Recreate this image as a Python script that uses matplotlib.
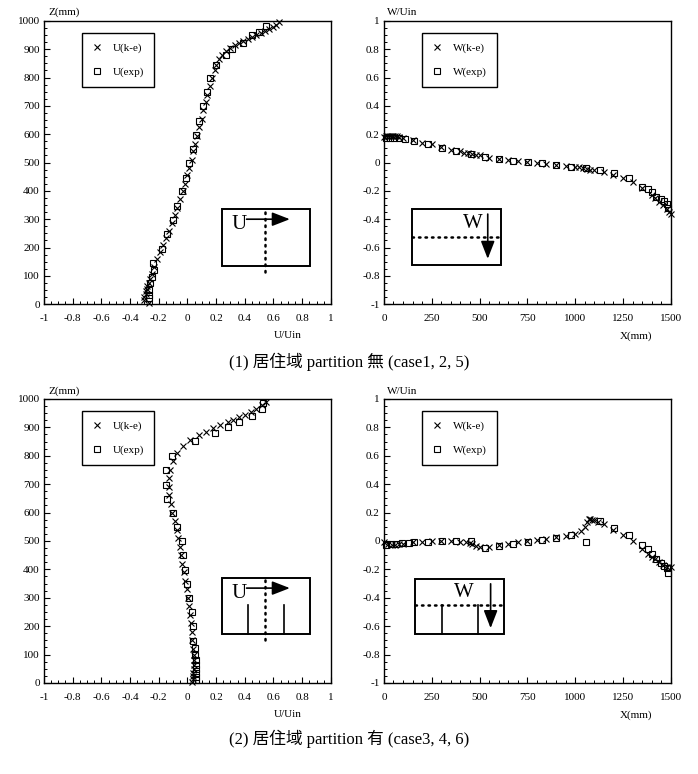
import numpy as np
import matplotlib
matplotlib.use('Agg')
import matplotlib.pyplot as plt
from matplotlib.patches import Rectangle
from matplotlib.ticker import MultipleLocator, FuncFormatter

plt.rcParams['font.family'] = ['Liberation Serif', 'Noto Sans CJK JP']
plt.rcParams['axes.unicode_minus'] = False

# (1) partition 無 : U profile
u1_ke = [-0.27, -0.30, -0.30, -0.29, -0.29, -0.28, -0.28, -0.27, -0.26, -0.25, -0.23, -0.21,
         -0.19, -0.17, -0.15, -0.13, -0.11, -0.09, -0.07, -0.05, -0.03, -0.02, 0.0, 0.01, 0.03,
         0.04, 0.05, 0.07, 0.08, 0.10, 0.11, 0.13, 0.14, 0.16, 0.17, 0.19, 0.20, 0.22, 0.24,
         0.27, 0.30, 0.33, 0.36, 0.39, 0.42, 0.45, 0.48, 0.51, 0.54, 0.57, 0.60, 0.62, 0.64]
z1_ke = [5, 15, 25, 35, 45, 55, 65, 75, 90, 105, 130, 160, 185, 210, 235, 260, 285, 315, 340,
         370, 400, 425, 455, 480, 510, 540, 565, 595, 625, 655, 685, 715, 740, 770, 800, 825,
         845, 865, 880, 895, 905, 915, 922, 930, 937, 944, 950, 957, 964, 972, 980, 987, 995]
u1_exp = [0.55, 0.50, 0.45, 0.39, 0.31, 0.27, 0.20, 0.16, 0.14, 0.11, 0.08, 0.06, 0.04, 0.01,
          -0.01, -0.04, -0.07, -0.10, -0.14, -0.18, -0.24, -0.23, -0.25, -0.26, -0.27, -0.27,
          -0.27]
z1_exp = [982, 960, 950, 921, 900, 880, 845, 800, 750, 698, 645, 598, 548, 498, 445, 398, 345,
          298, 247, 195, 145, 119, 95, 74, 50, 33, 21]

# (1) partition 無 : W profile
x1_ke = [0, 10, 20, 30, 40, 50, 60, 70, 80, 100, 150, 200, 250, 300, 350, 400, 420, 440, 460,
         480, 500, 550, 600, 650, 700, 750, 800, 850, 900, 950, 1000, 1020, 1040, 1060, 1080,
         1100, 1150, 1200, 1250, 1300, 1350, 1400, 1420, 1440, 1460, 1480, 1490, 1500]
w1_ke = [0.18, 0.19, 0.19, 0.19, 0.19, 0.19, 0.185, 0.185, 0.18, 0.175, 0.16, 0.14, 0.13, 0.11,
         0.09, 0.08, 0.07, 0.065, 0.06, 0.055, 0.05, 0.035, 0.025, 0.015, 0.01, 0.003, -0.003,
         -0.01, -0.018, -0.025, -0.03, -0.035, -0.04, -0.045, -0.05, -0.055, -0.065, -0.085,
         -0.11, -0.14, -0.18, -0.23, -0.25, -0.28, -0.30, -0.33, -0.35, -0.36]
x1_exp = [9, 30, 55, 80, 110, 157, 230, 305, 378, 453, 528, 602, 675, 753, 825, 898, 977,
          1055, 1128, 1204, 1279, 1352, 1381, 1400, 1425, 1451, 1465, 1479, 1486]
w1_exp = [0.17, 0.17, 0.17, 0.17, 0.165, 0.15, 0.13, 0.105, 0.08, 0.06, 0.04, 0.024, 0.012,
          0.002, -0.005, -0.016, -0.028, -0.04, -0.056, -0.075, -0.11, -0.17, -0.19, -0.21,
          -0.24, -0.26, -0.275, -0.29, -0.32]

# (2) partition 有 : U profile
u2_ke = [0.03, 0.04, 0.04, 0.04, 0.045, 0.045, 0.045, 0.045, 0.04, 0.035, 0.03, 0.025, 0.02,
         0.012, 0.005, -0.005, -0.015, -0.025, -0.035, -0.045, -0.055, -0.065, -0.075, -0.09,
         -0.105, -0.115, -0.125, -0.13, -0.13, -0.12, -0.10, -0.07, -0.03, 0.02, 0.08, 0.13,
         0.18, 0.23, 0.28, 0.32, 0.36, 0.40, 0.44, 0.48, 0.52, 0.55]
z2_ke = [5, 15, 25, 35, 50, 65, 80, 100, 120, 150, 180, 210, 240, 270, 300, 330, 360, 390, 420,
         450, 480, 510, 540, 570, 600, 630, 660, 690, 720, 750, 780, 810, 835, 855, 872, 885,
         897, 907, 917, 926, 935, 945, 955, 965, 977, 990]
u2_exp = [0.53, 0.52, 0.45, 0.36, 0.28, 0.19, 0.05, -0.11, -0.15, -0.15, -0.14, -0.10, -0.07,
          -0.04, -0.03, -0.02, 0.0, 0.01, 0.03, 0.04, 0.04, 0.05, 0.05, 0.06, 0.06, 0.06, 0.06,
          0.06, 0.06]
z2_exp = [984, 965, 941, 918, 900, 880, 851, 798, 749, 698, 648, 599, 548, 499, 450, 399, 349,
          299, 250, 200, 149, 123, 100, 82, 65, 50, 35, 20, 12]

# (2) partition 有 : W profile
x2_ke = [0, 20, 40, 60, 80, 100, 150, 200, 250, 300, 350, 400, 430, 450, 460, 480, 500, 550,
         600, 650, 700, 750, 800, 850, 900, 950, 1000, 1030, 1050, 1060, 1070, 1080, 1090,
         1100, 1120, 1150, 1200, 1250, 1300, 1350, 1380, 1400, 1420, 1440, 1460, 1480, 1500]
w2_ke = [-0.01, -0.02, -0.03, -0.03, -0.025, -0.02, -0.01, -0.005, 0.0, 0.0, 0.0, -0.005,
         -0.01, -0.015, -0.025, -0.035, -0.045, -0.04, -0.03, -0.02, -0.01, 0.0, 0.005, 0.015,
         0.025, 0.035, 0.05, 0.07, 0.10, 0.13, 0.155, 0.155, 0.15, 0.145, 0.135, 0.12, 0.08,
         0.04, 0.0, -0.06, -0.09, -0.11, -0.13, -0.15, -0.17, -0.18, -0.18]
x2_exp = [12, 35, 61, 96, 131, 157, 230, 305, 378, 453, 528, 602, 677, 754, 828, 902, 977,
          1055, 1128, 1204, 1279, 1352, 1381, 1400, 1425, 1451, 1465, 1479, 1486]
w2_exp = [-0.03, -0.023, -0.019, -0.014, -0.012, -0.007, -0.007, -0.002, -0.002, -0.002,
          -0.053, -0.037, -0.019, -0.007, 0.009, 0.023, 0.04, -0.007, 0.137, 0.093, 0.044,
          -0.026, -0.06, -0.095, -0.128, -0.153, -0.174, -0.193, -0.228]

captions = ['(1) 居住域 partition 無 (case1, 2, 5)', '(2) 居住域 partition 有 (case3, 4, 6)']

fs = 8
fmt = FuncFormatter(lambda v, p: '%g' % round(v, 6))


def style_axes(ax, xlim, ylim, xmaj, xmin, ymaj, ymin):
    ax.set_xlim(xlim)
    ax.set_ylim(ylim)
    ax.xaxis.set_major_locator(MultipleLocator(xmaj))
    ax.xaxis.set_minor_locator(MultipleLocator(xmin))
    ax.yaxis.set_major_locator(MultipleLocator(ymaj))
    ax.yaxis.set_minor_locator(MultipleLocator(ymin))
    ax.xaxis.set_major_formatter(fmt)
    ax.yaxis.set_major_formatter(fmt)
    ax.tick_params(which='both', direction='in', top=False, right=False, labelsize=fs)
    ax.tick_params(axis='x', which='both', pad=7)
    ax.tick_params(axis='y', which='both', pad=3)
    ax.tick_params(which='major', length=4, width=0.8)
    ax.tick_params(which='minor', length=2.2, width=0.7)
    for s in ax.spines.values():
        s.set_linewidth(1.0)


def plot_pair(ax, x1, y1, x2, y2, lab1, lab2):
    ax.plot(x1, y1, 'x', color='black', ms=5, mew=0.8, label=lab1, clip_on=False)
    ax.plot(x2, y2, 's', mfc='none', mec='black', ms=5, mew=0.8, label=lab2, clip_on=False)
    ax.legend(loc='upper left', bbox_to_anchor=(0.132, 0.958), borderaxespad=0, fontsize=fs,
              frameon=True, fancybox=False, edgecolor='black', framealpha=1,
              labelspacing=1.3, handlelength=1.0, handletextpad=0.9, borderpad=0.9
              ).get_frame().set_linewidth(1.0)


def dotted(ax, xs, ys):
    ax.plot(xs, ys, transform=ax.transAxes, color='black', lw=1.8,
            linestyle=(0, (0.6, 2.0)), dash_capstyle='round', clip_on=False)


def arrow(ax, start, end):
    ax.annotate('', xy=end, xytext=start, xycoords='axes fraction',
                arrowprops=dict(arrowstyle='-|>,head_length=0.9,head_width=0.35',
                                color='black', lw=1.2, mutation_scale=12, shrinkA=0, shrinkB=0))


def u_inset(ax, y0, y1, partition):
    ax.add_patch(Rectangle((0.62, y0), 0.307, y1 - y0, transform=ax.transAxes,
                           fill=False, lw=1.4, ec='black'))
    ym = y1 - 0.036
    arrow(ax, (0.706, ym), (0.857, ym))
    ax.text(0.68, ym - 0.02, 'U', transform=ax.transAxes, fontsize=15, ha='center', va='center')
    dotted(ax, [0.772, 0.772], [y0 - 0.022, y1 + 0.008])
    if partition:
        for xp in (0.711, 0.836):
            ax.plot([xp, xp], [y0, y0 + 0.1], transform=ax.transAxes, color='black', lw=1.2)


def w_inset(ax, x0, y0, y1, ydot, xarr, xtext, partition):
    ax.add_patch(Rectangle((x0, y0), 0.31, y1 - y0, transform=ax.transAxes,
                           fill=False, lw=1.4, ec='black'))
    arrow(ax, (xarr, y1 - 0.018), (xarr, y0 + 0.022))
    ax.text(xtext, y1 - 0.05, 'W', transform=ax.transAxes, fontsize=15, ha='center', va='center')
    dotted(ax, [x0, x0 + 0.31], [ydot, ydot])
    if partition:
        for xp in (0.201, 0.328):
            ax.plot([xp, xp], [y0, ydot], transform=ax.transAxes, color='black', lw=1.2)


fig = plt.figure(figsize=(6.98, 7.74), dpi=100)

rows = [
    (0.607, 0.366, u1_ke, z1_ke, u1_exp, z1_exp, x1_ke, w1_ke, x1_exp, w1_exp, False),
    (0.1176, 0.367, u2_ke, z2_ke, u2_exp, z2_exp, x2_ke, w2_ke, x2_exp, w2_exp, True),
]

for i, (bot, h, uk, zk, ue, ze, xk, wk, xe, we, part) in enumerate(rows):
    axl = fig.add_axes([0.063, bot, 0.411, h])
    style_axes(axl, (-1, 1), (0, 1000), 0.2, 0.05, 100, 25)
    plot_pair(axl, uk, zk, ue, ze, 'U(k-e)', 'U(exp)')
    axl.text(0.017, 1.012, 'Z(mm)', transform=axl.transAxes, fontsize=fs, va='bottom')
    axl.text(0.85, -0.112, 'U/Uin', transform=axl.transAxes, fontsize=fs, ha='center', va='center')

    axr = fig.add_axes([0.550, bot, 0.411, h])
    style_axes(axr, (0, 1500), (-1, 1), 250, 50, 0.2, 0.05)
    plot_pair(axr, xk, wk, xe, we, 'W(k-e)', 'W(exp)')
    axr.text(0.01, 1.012, 'W/Uin', transform=axr.transAxes, fontsize=fs, va='bottom')
    axr.text(0.878, -0.112, 'X(mm)', transform=axr.transAxes, fontsize=fs, ha='center', va='center')

    if not part:
        u_inset(axl, 0.134, 0.336, False)
        w_inset(axr, 0.098, 0.138, 0.336, 0.238, 0.362, 0.31, False)
    else:
        u_inset(axl, 0.173, 0.37, True)
        w_inset(axr, 0.108, 0.171, 0.367, 0.273, 0.372, 0.279, True)

fig.text(0.5, 0.532, captions[0], ha='center', va='center', fontsize=12)
fig.text(0.5, 0.0452, captions[1], ha='center', va='center', fontsize=12)

fig.savefig('out.png', dpi=100)
